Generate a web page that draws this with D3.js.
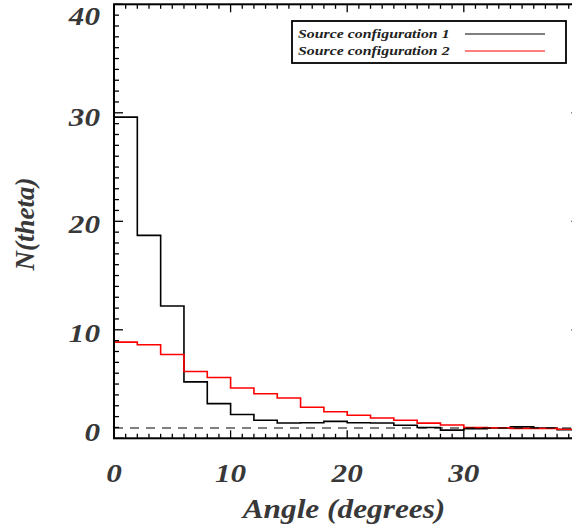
<!DOCTYPE html>
<html><head><meta charset="utf-8">
<script src="https://cdn.jsdelivr.net/npm/d3@7"></script>
<style>html,body{margin:0;padding:0;background:#fff;overflow:hidden}</style>
</head><body>
<svg id="c" width="572" height="528"></svg>
<script>
// ---- data ----
const binEdges = [0,2,4,6,8,10,12,14,16,18,20,22,24,26,28,30,32,34,36,38,40];
const config1 = [29.6,18.7,12.2,5.2,3.2,2.2,1.66,1.41,1.44,1.56,1.44,1.41,1.2,1.0,0.75,0.89,0.95,1.05,0.95,0.8];
const config2 = [8.86,8.62,7.73,6.16,5.6,4.63,4.11,3.72,2.86,2.45,2.12,1.87,1.66,1.40,1.22,1.0,0.97,0.9,0.9,0.83];
const seriesNames = ["Source configuration 1","Source configuration 2"];
const seriesColors = ["#000000","#ff0000"];
const xTicks = [0,10,20,30];
const yTicks = [0,10,20,30,40];
const refLevel = 0.95;
const xTitle = "Angle (degrees)";
const yTitle = "N(theta)";

const svg = d3.select("#c");
const L = 114, R = 580.4, T = 4.3, B = 438.3;
const x = d3.scaleLinear().domain([0,40]).range([L,R]);
const y = d3.scaleLinear().domain([0,40]).range([B,T]);
// label placement scale (labels in the reference are not exactly on their ticks)
const yLab = d3.scaleLinear().domain([0,10,20,30,40]).range([432,333,224,117,16]);

const font = "'Liberation Serif','Times New Roman',serif";
const txtCol = "#383838";

// histograms
const line = d3.line().x(d=>x(d[0])).y(d=>y(d[1])).curve(d3.curveStepAfter);
function pts(vals){ const p = vals.map((v,i)=>[binEdges[i],v]); p.push([binEdges[binEdges.length-1], vals[vals.length-1]]); return p; }
[config1, config2].forEach((vals,i)=>{
  svg.append("path").attr("d", line(pts(vals))).attr("fill","none")
    .attr("stroke", seriesColors[i]).attr("stroke-width", 1.6);
});

// dashed reference line
svg.append("line").attr("x1",x(0)).attr("x2",x(40)).attr("y1",y(refLevel)).attr("y2",y(refLevel))
  .attr("stroke","#000").attr("stroke-width",1.2).attr("stroke-dasharray","9,7");

// axes (IDL style: ticks inward on all four sides)
const ax = svg.append("g");
ax.append("rect").attr("x",L).attr("y",T).attr("width",R-L).attr("height",B-T)
  .attr("fill","none").attr("stroke","#000").attr("stroke-width",2);
const xMinor = d3.range(0,41,1), yMinor = d3.range(0,41,1);
xMinor.forEach(v=>{
  const len = v%10===0 ? 8 : 4.5;
  ax.append("line").attr("x1",x(v)).attr("x2",x(v)).attr("y1",B).attr("y2",B-len).attr("stroke","#000").attr("stroke-width",1.3);
  ax.append("line").attr("x1",x(v)).attr("x2",x(v)).attr("y1",T).attr("y2",T+len).attr("stroke","#000").attr("stroke-width",1.3);
});
yMinor.forEach(v=>{
  const len = v%10===0 ? 9 : 5;
  ax.append("line").attr("x1",L).attr("x2",L+len).attr("y1",y(v)).attr("y2",y(v)).attr("stroke","#000").attr("stroke-width",1.3);
  ax.append("line").attr("x1",R).attr("x2",R-len).attr("y1",y(v)).attr("y2",y(v)).attr("stroke","#000").attr("stroke-width",1.3);
});

// tick labels
const labStyle = s => s.attr("font-family",font).attr("font-style","italic").attr("font-weight","bold")
  .attr("font-size",26).attr("fill",txtCol);
xTicks.forEach(v=>{
  svg.append("text").attr("transform",`translate(${x(v)},482) scale(1.2,1)`).attr("text-anchor","middle").text(v).call(labStyle);
});
yTicks.forEach(v=>{
  svg.append("text").attr("transform",`translate(100,${yLab(v)+8.5}) scale(1.2,1)`).attr("text-anchor","end").text(v).call(labStyle);
});

// axis titles
svg.append("text").attr("transform","translate(344,518) scale(1.16,1)").attr("text-anchor","middle")
  .text(xTitle).call(labStyle).attr("font-size",27);
svg.append("text").attr("transform","translate(34,224) rotate(-90) scale(1.0,1)").attr("text-anchor","middle")
  .text(yTitle).call(labStyle).attr("font-size",27);

// legend
const lg = svg.append("g");
lg.append("rect").attr("x",292).attr("y",21).attr("width",274).attr("height",42)
  .attr("fill","#fff").attr("stroke","#000").attr("stroke-width",1.8);
seriesNames.forEach((n,i)=>{
  const by = 38 + i*17;
  lg.append("text").attr("transform",`translate(298,${by}) scale(1.22,1)`).text(n)
    .attr("font-family",font).attr("font-style","italic").attr("font-weight","bold").attr("font-size",13).attr("fill","#222");
  lg.append("line").attr("x1",465).attr("x2",545).attr("y1",by-4).attr("y2",by-4)
    .attr("stroke",seriesColors[i]).attr("stroke-width",1.1);
});
</script>
</body></html>
